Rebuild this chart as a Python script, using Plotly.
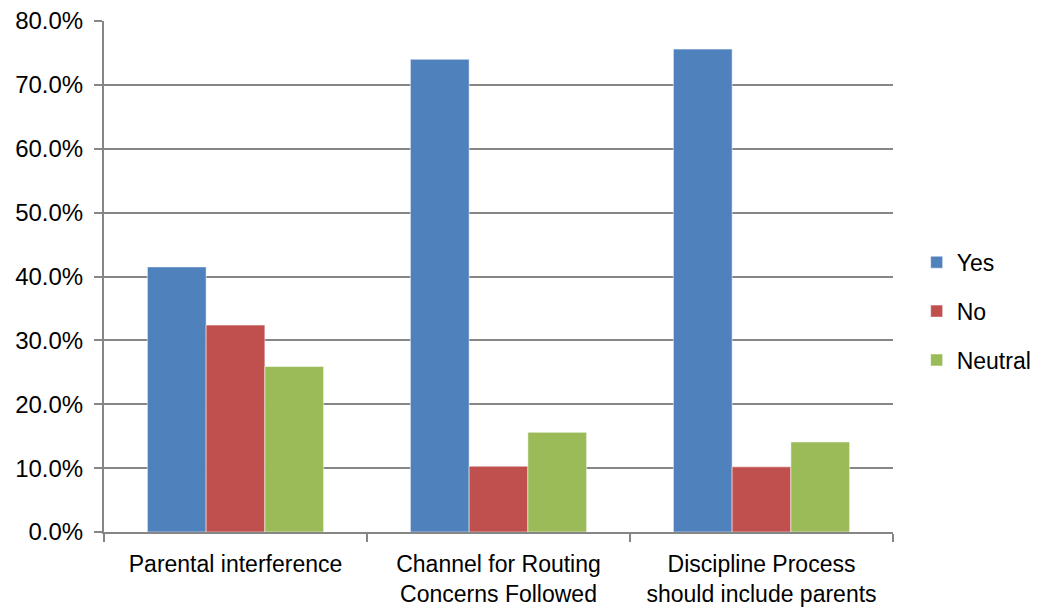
import plotly.graph_objects as go

categories = ["Parental interference", "Channel for Routing<br>Concerns Followed", "Discipline Process<br>should include parents"]
series_names = ["Yes", "No", "Neutral"]
yes_vals = [41.5, 74.0, 75.6]
no_vals = [32.4, 10.3, 10.2]
neutral_vals = [25.9, 15.6, 14.1]
colors = ["#4F81BD", "#C0504D", "#9BBB59"]
y_ticks = [0, 10, 20, 30, 40, 50, 60, 70, 80]
y_tick_labels = ["0.0%", "10.0%", "20.0%", "30.0%", "40.0%", "50.0%", "60.0%", "70.0%", "80.0%"]

font_family = "Liberation Sans Narrow, Liberation Sans, Arial, sans-serif"

fig = go.Figure()
for name, vals, col in zip(series_names, [yes_vals, no_vals, neutral_vals], colors):
    fig.add_trace(go.Bar(name=name, x=categories, y=vals, marker_color=col, legendgroup=name,
                         marker_line=dict(color="rgba(255,255,255,0.5)", width=1)))

fig.update_layout(
    width=1041, height=613,
    margin=dict(l=104, r=148, t=21, b=81, autoexpand=False),
    barmode="group", bargap=0.33, bargroupgap=0,
    plot_bgcolor="white", paper_bgcolor="white",
    font=dict(family=font_family, size=23, color="#000000"),
    legend=dict(x=1.03, y=0.432, yanchor="middle", xanchor="left",
                font=dict(size=23), tracegroupgap=16, itemwidth=30),
    showlegend=True,
)
fig.update_xaxes(showline=True, linecolor="#868686", linewidth=2,
                 ticks="outside", tickson="boundaries", ticklen=8, tickcolor="#868686", tickwidth=2,
                 tickfont=dict(size=23), ticklabelstandoff=10)
fig.update_yaxes(range=[0, 80], tickvals=y_ticks, ticktext=y_tick_labels,
                 showline=True, linecolor="#868686", linewidth=2,
                 ticks="outside", ticklen=8, tickcolor="#868686", tickwidth=2,
                 showgrid=True, gridcolor="#868686", gridwidth=2, zeroline=False,
                 tickfont=dict(size=24), ticklabelstandoff=6)
fig.write_html("out.html")
